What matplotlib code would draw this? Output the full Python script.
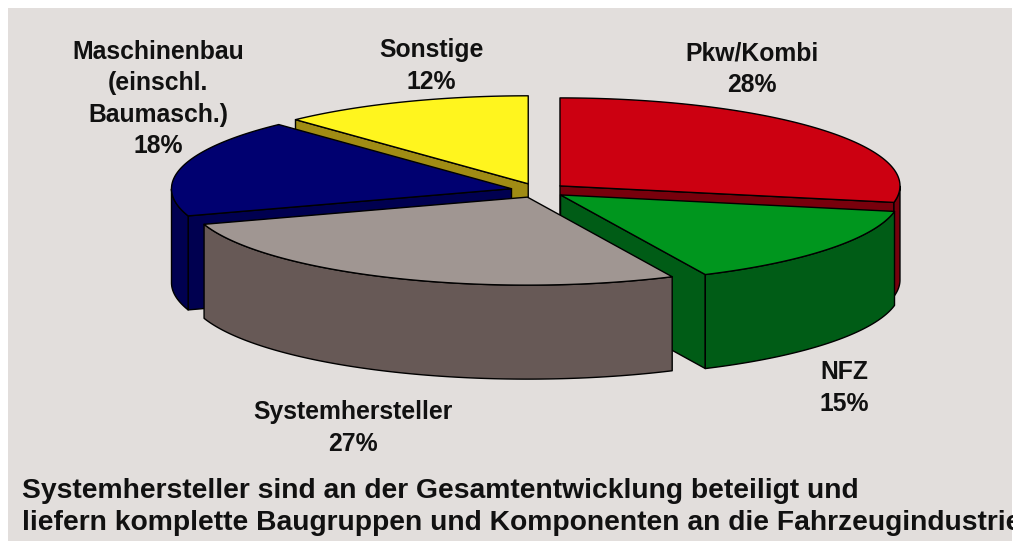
import numpy as np
import matplotlib.pyplot as plt
from matplotlib.patches import Polygon, Rectangle

# ---------------------------------------------------------------------------
# Data
# ---------------------------------------------------------------------------
categories = ["Pkw/Kombi", "NFZ", "Systemhersteller",
              "Maschinenbau\n(einschl.\nBaumasch.)", "Sonstige"]
shares_pct = [28, 15, 27, 18, 12]
top_colors  = ["#cc0011", "#00961e", "#a09692", "#000070", "#fff51e"]
side_colors = ["#78000c", "#005c16", "#675956", "#000050", "#a08c14"]
label_xy = [(752, 69), (844, 388), (353, 428), (158, 99), (431, 66)]

caption_lines = ["Systemhersteller sind an der Gesamtentwicklung beteiligt und",
                 "liefern komplette Baugruppen und Komponenten an die Fahrzeugindustrie"]

# ---------------------------------------------------------------------------
# Pie geometry (pixels, y pointing down)
# ---------------------------------------------------------------------------
cx, cy = 538.5, 190.5
rx, ry = 340.0, 88.0
depth = 94.0
explode = 0.082
start_angle = 90.0

fig = plt.figure(figsize=(10.13, 5.41), dpi=100)
fig.patch.set_facecolor("white")
ax = fig.add_axes([0, 0, 1, 1])
ax.set_xlim(0, 1013)
ax.set_ylim(541, 0)
ax.axis("off")

ax.add_patch(Rectangle((8, 8), 1004, 540, facecolor="#e2dedc", edgecolor="none", zorder=0))

slices = []
cum = 0.0
for share, top_c, side_c in zip(shares_pct, top_colors, side_colors):
    hi = start_angle - cum * 3.6
    lo = hi - share * 3.6
    cum += share
    mid = np.radians((lo + hi) / 2)
    ox = cx + explode * rx * np.cos(mid)
    oy = cy - explode * ry * np.sin(mid)
    slices.append(dict(lo=lo, hi=hi, mid=mid, ox=ox, oy=oy, top=top_c, side=side_c))


def rim(s, t_deg, dz=0.0):
    t = np.radians(t_deg)
    return np.column_stack([s["ox"] + rx * np.cos(t), s["oy"] - ry * np.sin(t) + dz])


edge_kw = dict(edgecolor="black", linewidth=1.0, joinstyle="round")

# side walls, back to front
for s in sorted(slices, key=lambda s: -np.sin(s["mid"])):
    for ang, visible in ((s["lo"], np.cos(np.radians(s["lo"])) > 0),
                         (s["hi"], np.cos(np.radians(s["hi"])) < 0)):
        if visible:
            p = rim(s, [ang])[0]
            face = [(s["ox"], s["oy"]), tuple(p), (p[0], p[1] + depth),
                    (s["ox"], s["oy"] + depth)]
            ax.add_patch(Polygon(face, closed=True, facecolor=s["side"], zorder=2, **edge_kw))
    t = np.linspace(s["lo"], s["hi"], 400)
    t = t[np.sin(np.radians(t)) <= 0]
    if len(t) > 1:
        top_arc = rim(s, t)
        bot_arc = rim(s, t[::-1], depth)
        ax.add_patch(Polygon(np.vstack([top_arc, bot_arc]), closed=True,
                             facecolor=s["side"], zorder=2, **edge_kw))

# top faces
for s in slices:
    arc = rim(s, np.linspace(s["lo"], s["hi"], 200))
    pts = np.vstack([[s["ox"], s["oy"]], arc])
    ax.add_patch(Polygon(pts, closed=True, facecolor=s["top"], zorder=3, **edge_kw))

# labels
for name, pct, (lx, ly) in zip(categories, shares_pct, label_xy):
    ax.text(lx, ly, f"{name}\n{pct}%", ha="center", va="center",
            fontsize=17.8, fontweight="bold", family="Liberation Sans",
            color="#111111", linespacing=1.4, zorder=5)

for i, line in enumerate(caption_lines):
    ax.text(22, 498 + 32 * i, line, ha="left", va="baseline", fontsize=20.3,
            fontweight="bold", family="Liberation Sans", color="#111111", zorder=5)

fig.savefig("out.png", dpi=100, facecolor=fig.get_facecolor())
